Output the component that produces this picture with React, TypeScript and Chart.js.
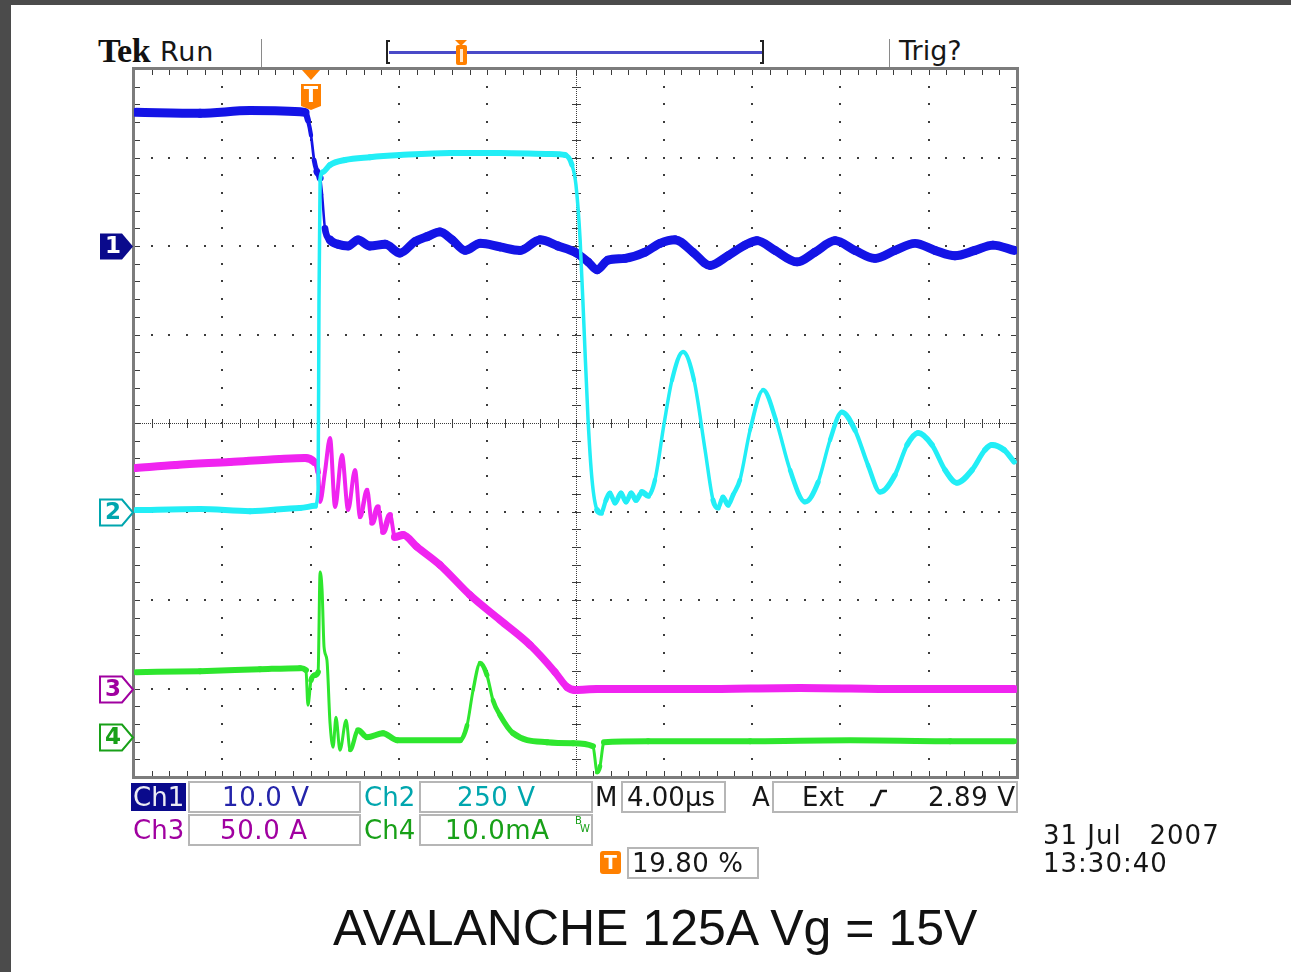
import React, { useEffect, useRef } from 'react';
import { Chart, registerables } from 'chart.js';

Chart.register(...registerables);

// ---- Time base (4 µs/div, 10 div, trigger at 19.80 % of record) ----
const TIME_PER_DIV = 4;
const H_DIVS = 10;
const V_DIVS = 8;
const TRIGGER_PCT = 19.8;
const X_MIN = -(TIME_PER_DIV * H_DIVS * TRIGGER_PCT) / 100;
const X_MAX = X_MIN + TIME_PER_DIV * H_DIVS;

// ---- Vertical settings per channel ----
const CH1_SCALE = 10; // V/div
const CH2_SCALE = 250; // V/div
const CH3_SCALE = 50; // A/div
const CH4_SCALE = 10; // mA/div
const CH1_GROUND_DIV = 6;
const CH2_GROUND_DIV = 3;
const CH3_GROUND_DIV = 1;
const CH4_GROUND_DIV = 0.45;

// ---- Ch1 : gate voltage (V) vs time (µs) ----
const CH1_T = [-7.83, -4.93, -2.66, -0.17, -0.04, 0.10, 0.24, 0.37, 0.51, 0.60, 0.73, 0.96, 1.32, 1.78, 2.23, 2.77, 3.45, 4.13, 4.81, 5.40, 5.94, 6.49, 7.08, 7.76, 8.66, 9.57, 10.47, 11.29, 12.06, 12.65, 13.06, 13.55, 14.32, 15.23, 15.91, 16.59, 17.40, 18.17, 18.99, 19.76, 20.30, 21.12, 22.12, 22.93, 23.84, 24.74, 25.65, 26.55, 27.46, 28.37, 29.27, 30.18, 30.99, 31.95];
const CH1_V = [15.1, 15.0, 15.3, 15.1, 14.2, 12.5, 9.7, 8.4, 7.7, 5.8, 2.0, 0.7, 0.2, 0.0, 0.7, 0.0, 0.2, -0.8, 0.5, 1.1, 1.6, 0.7, -0.5, 0.3, -0.1, -0.5, 0.7, 0.0, -0.7, -1.8, -2.7, -1.6, -1.4, -0.7, 0.3, 0.7, -0.7, -2.2, -1.1, 0.1, 0.6, -0.5, -1.8, -0.7, 0.6, -0.5, -1.4, -0.5, 0.3, -0.5, -1.1, -0.5, 0.1, -0.5];

// ---- Ch2 : drain voltage (V) ----
const CH2_T = [-7.83, -4.93, -2.66, -0.40, 0.28, 0.42, 0.46, 0.51, 0.64, 0.96, 1.64, 2.77, 4.13, 6.40, 8.66, 10.93, 11.61, 11.92, 12.10, 12.29, 12.47, 12.65, 12.83, 13.06, 13.24, 13.46, 13.64, 13.87, 14.14, 14.37, 14.60, 14.82, 15.09, 15.37, 15.68, 16.09, 16.45, 16.95, 17.45, 17.95, 18.31, 18.54, 18.76, 18.99, 19.22, 19.53, 19.99, 20.58, 21.16, 21.80, 22.48, 23.07, 23.61, 24.15, 24.74, 25.33, 25.88, 26.55, 27.10, 27.60, 28.23, 28.82, 29.36, 30.04, 30.63, 30.95, 31.49, 31.95];
const CH2_V = [4, 7, 1, 10, 16, 61, 597, 936, 959, 979, 993, 1001, 1007, 1013, 1013, 1010, 1007, 979, 923, 767, 513, 258, 89, 4, -4, 32, 52, 24, 52, 27, 52, 32, 55, 44, 89, 247, 371, 451, 371, 174, 32, 10, 41, 18, 47, 89, 230, 343, 258, 117, 27, 83, 202, 281, 230, 131, 55, 103, 188, 222, 188, 117, 81, 117, 174, 188, 174, 140];

// ---- Ch3 : drain current (A) ----
const CH3_T = [-7.83, -6.02, -3.57, -1.30, -0.17, 0.24, 0.42, 0.51, 0.73, 0.96, 1.19, 1.50, 1.78, 2.09, 2.32, 2.64, 2.86, 3.13, 3.36, 3.68, 3.90, 4.27, 4.90, 5.94, 7.30, 8.66, 10.02, 11.15, 11.70, 12.06, 13.06, 17.72, 22.25, 26.78, 31.95];
const CH3_A = [124.6, 126.3, 128.0, 129.7, 130.2, 128.0, 122.3, 105.4, 122.3, 141.5, 102.5, 131.9, 100.8, 123.5, 96.9, 112.2, 93.5, 102.5, 88.4, 98.0, 85.6, 86.7, 80.0, 69.8, 52.8, 38.7, 24.6, 9.3, 0.8, -0.8, -0.3, -0.3, 0.3, -0.3, -0.3];

// ---- Ch4 : gate current (mA) ----
const CH4_T = [-7.83, -4.93, -2.21, -0.40, -0.13, -0.04, 0.10, 0.28, 0.42, 0.51, 0.60, 0.69, 0.82, 0.96, 1.10, 1.23, 1.41, 1.69, 1.87, 2.23, 2.64, 3.36, 4.00, 5.49, 6.85, 7.17, 7.44, 7.76, 8.07, 8.34, 8.66, 9.25, 10.79, 11.97, 12.87, 13.06, 13.19, 13.37, 15.37, 19.99, 24.52, 29.05, 31.95];
const CH4_MA = [7.35, 7.46, 7.68, 7.80, 7.57, 3.62, 6.44, 7.01, 7.35, 18.65, 16.61, 10.17, 8.70, 1.58, -1.13, 2.26, -1.47, 1.92, -1.47, 0.79, 0.0, 0.45, -0.34, -0.34, -0.34, 1.36, 5.31, 8.36, 7.01, 4.18, 2.49, 0.45, -0.57, -0.68, -1.02, -3.96, -3.28, -0.57, -0.45, -0.45, -0.34, -0.45, -0.45];

const CH_COLORS = ['#1414e6', '#22eef6', '#f024f0', '#2ee62e'];
const CH_LABEL_COLORS = ['#0a0a8c', '#00a6ae', '#a000a0', '#18a018'];
const ORANGE = '#ff8000';
const SCOPE_FONT = '"DejaVu Sans", sans-serif';

const W = 1291;
const H = 972;
const PLOT = { left: 134, top: 69, right: 1017, bottom: 777 };

const pts = (t: number[], v: number[]) => t.map((x, i) => ({ x, y: v[i] }));

const segWidth = (thick: number, floor: number) => (ctx: any) => {
  const dx = Math.abs(ctx.p1.x - ctx.p0.x) || 0.001;
  const dy = Math.abs(ctx.p1.y - ctx.p0.y);
  const s = dy / dx;
  return Math.max(floor, thick / Math.sqrt(1 + 0.15 * s * s));
};

const graticule = {
  id: 'graticule',
  beforeDatasetsDraw(chart: any) {
    const { ctx, chartArea } = chart;
    const { left, top, right, bottom } = chartArea;
    const w = right - left;
    const h = bottom - top;
    const dx = w / H_DIVS;
    const dy = h / V_DIVS;
    ctx.save();
    ctx.fillStyle = '#3c3c3c';
    for (let i = 1; i < H_DIVS; i++) {
      if (i === H_DIVS / 2) continue;
      const x = Math.round(left + i * dx);
      for (let k = 1; k < V_DIVS * 5; k++) {
        const y = Math.round(top + (k * dy) / 5);
        ctx.fillRect(x - 1, y - 1, 2, 2);
      }
    }
    for (let j = 1; j < V_DIVS; j++) {
      if (j === V_DIVS / 2) continue;
      const y = Math.round(top + j * dy);
      for (let k = 1; k < H_DIVS * 5; k++) {
        const x = Math.round(left + (k * dx) / 5);
        ctx.fillRect(x - 1, y - 1, 2, 2);
      }
    }
    const cx = Math.round(left + (H_DIVS / 2) * dx);
    const cy = Math.round(top + (V_DIVS / 2) * dy);
    for (let y = top; y < bottom; y += 2) ctx.fillRect(cx, y, 1, 1);
    for (let x = left; x < right; x += 2) ctx.fillRect(x, cy, 1, 1);
    ctx.strokeStyle = '#3c3c3c';
    ctx.lineWidth = 1;
    ctx.beginPath();
    for (let k = 1; k < V_DIVS * 5; k++) {
      const y = Math.round(top + (k * dy) / 5) + 0.5;
      ctx.moveTo(cx - 4, y); ctx.lineTo(cx + 5, y);
      ctx.moveTo(left, y); ctx.lineTo(left + 6, y);
      ctx.moveTo(right, y); ctx.lineTo(right - 6, y);
    }
    for (let k = 1; k < H_DIVS * 5; k++) {
      const x = Math.round(left + (k * dx) / 5) + 0.5;
      ctx.moveTo(x, cy - 4); ctx.lineTo(x, cy + 5);
      ctx.moveTo(x, top); ctx.lineTo(x, top + 6);
      ctx.moveTo(x, bottom); ctx.lineTo(x, bottom - 6);
    }
    ctx.stroke();
    ctx.strokeStyle = '#7c7c7c';
    ctx.lineWidth = 3;
    ctx.strokeRect(left - 0.5, top - 0.5, w + 1, h + 1);
    ctx.restore();
  },
};

const markers = {
  id: 'markers',
  afterDatasetsDraw(chart: any) {
    const { ctx, chartArea } = chart;
    const defs = [
      { axis: 'y1', label: '1', filled: true, color: CH_LABEL_COLORS[0] },
      { axis: 'y2', label: '2', filled: false, color: CH_LABEL_COLORS[1] },
      { axis: 'y3', label: '3', filled: false, color: CH_LABEL_COLORS[2] },
      { axis: 'y4', label: '4', filled: false, color: CH_LABEL_COLORS[3] },
    ];
    ctx.save();
    defs.forEach((d) => {
      const y = Math.round(chart.scales[d.axis].getPixelForValue(0)) + 0.5;
      const tip = chartArea.left - 1;
      const x0 = tip - 33;
      const xr = tip - 11;
      const hh = 13;
      ctx.beginPath();
      ctx.moveTo(x0, y - hh);
      ctx.lineTo(xr, y - hh);
      ctx.lineTo(tip, y);
      ctx.lineTo(xr, y + hh);
      ctx.lineTo(x0, y + hh);
      ctx.closePath();
      if (d.filled) {
        ctx.fillStyle = d.color;
        ctx.fill();
      } else {
        ctx.fillStyle = '#ffffff';
        ctx.fill();
        ctx.strokeStyle = d.color;
        ctx.lineWidth = 2;
        ctx.stroke();
      }
      ctx.fillStyle = d.filled ? '#ffffff' : d.color;
      ctx.font = `bold 23px ${SCOPE_FONT}`;
      ctx.textAlign = 'center';
      ctx.textBaseline = 'middle';
      ctx.fillText(d.label, x0 + 13, y + 1);
    });
    // trigger position marker
    const tx = Math.round(chart.scales.x.getPixelForValue(0)) + 2;
    const top = chartArea.top;
    ctx.fillStyle = ORANGE;
    ctx.beginPath();
    ctx.moveTo(tx - 9, top + 1);
    ctx.lineTo(tx + 9, top + 1);
    ctx.lineTo(tx, top + 11);
    ctx.closePath();
    ctx.fill();
    ctx.beginPath();
    ctx.moveTo(tx - 10, top + 15);
    ctx.lineTo(tx + 10, top + 15);
    ctx.lineTo(tx + 10, top + 37);
    ctx.lineTo(tx, top + 41);
    ctx.lineTo(tx - 10, top + 37);
    ctx.closePath();
    ctx.fill();
    ctx.fillStyle = '#ffffff';
    ctx.font = `bold 21px ${SCOPE_FONT}`;
    ctx.textAlign = 'center';
    ctx.textBaseline = 'middle';
    ctx.fillText('T', tx, top + 28);
    ctx.restore();
  },
};

const axisRange = (ground: number, scale: number) => ({
  type: 'linear' as const,
  display: false,
  min: -ground * scale,
  max: (V_DIVS - ground) * scale,
});

const trace = (label: string, data: any[], axis: string, ch: number, thick: number, floor: number, order: number) => ({
  label,
  data,
  yAxisID: axis,
  pointRadius: 0,
  cubicInterpolationMode: 'monotone' as const,
  borderCapStyle: 'round' as const,
  borderJoinStyle: 'round' as const,
  fill: false,
  borderColor: CH_COLORS[ch],
  borderWidth: thick,
  order,
  segment: { borderWidth: segWidth(thick, floor) },
});

const Txt = (p: { x: number; y: number; h?: number; size?: number; color?: string; font?: string; bold?: boolean; children: any; style?: any }) => (
  <div
    style={{
      position: 'absolute',
      left: p.x,
      top: p.y,
      height: p.h ?? 30,
      lineHeight: `${p.h ?? 30}px`,
      fontSize: p.size ?? 26,
      fontFamily: p.font ?? SCOPE_FONT,
      fontWeight: p.bold ? 700 : 400,
      color: p.color ?? '#161616',
      whiteSpace: 'pre',
      ...(p.style || {}),
    }}
  >
    {p.children}
  </div>
);

const Box = (p: { x: number; y: number; w: number; h: number }) => (
  <div
    style={{
      position: 'absolute',
      left: p.x,
      top: p.y,
      width: p.w,
      height: p.h,
      boxSizing: 'border-box',
      border: '2px solid #b6b6b6',
    }}
  />
);

export default function App() {
  const canvasRef = useRef<HTMLCanvasElement>(null);

  useEffect(() => {
    const chart = new Chart(canvasRef.current as HTMLCanvasElement, {
      type: 'line',
      data: {
        datasets: [
          trace('Ch2', pts(CH2_T, CH2_V), 'y2', 1, 6, 3.5, 1),
          trace('Ch1', pts(CH1_T, CH1_V), 'y1', 0, 9, 2.5, 2),
          trace('Ch3', pts(CH3_T, CH3_A), 'y3', 2, 8, 4, 3),
          trace('Ch4', pts(CH4_T, CH4_MA), 'y4', 3, 6, 3, 4),
        ] as any,
      },
      options: {
        animation: false,
        responsive: false,
        maintainAspectRatio: false,
        layout: {
          padding: { left: PLOT.left, top: PLOT.top, right: W - PLOT.right, bottom: H - PLOT.bottom },
        },
        plugins: { legend: { display: false }, tooltip: { enabled: false }, title: { display: false } },
        scales: {
          x: { type: 'linear', display: false, min: X_MIN, max: X_MAX },
          y1: axisRange(CH1_GROUND_DIV, CH1_SCALE),
          y2: axisRange(CH2_GROUND_DIV, CH2_SCALE),
          y3: axisRange(CH3_GROUND_DIV, CH3_SCALE),
          y4: axisRange(CH4_GROUND_DIV, CH4_SCALE),
        },
      } as any,
      plugins: [graticule, markers],
    });
    return () => chart.destroy();
  }, []);

  return (
    <div style={{ position: 'absolute', left: 0, top: 0, width: W, height: H, background: '#ffffff', overflow: 'hidden' }}>
      <div style={{ position: 'absolute', left: 0, top: 0, width: W, height: 5, background: '#4b4b4b' }} />
      <div style={{ position: 'absolute', left: 0, top: 0, width: 11, height: H, background: '#4b4b4b' }} />

      {/* header */}
      <Txt x={98} y={33} h={36} size={34} bold font={'"Liberation Serif", serif'} color="#111" style={{ letterSpacing: '-0.5px' }}>Tek</Txt>
      <Txt x={160} y={37} size={27} style={{ letterSpacing: '0.8px' }}>Run</Txt>
      <div style={{ position: 'absolute', left: 261, top: 39, width: 1, height: 30, background: '#8a8a8a' }} />
      <div style={{ position: 'absolute', left: 889, top: 39, width: 1, height: 30, background: '#8a8a8a' }} />
      <Txt x={899} y={36} size={27}>Trig?</Txt>
      <div style={{ position: 'absolute', left: 386, top: 40, width: 4, height: 24, boxSizing: 'border-box', borderLeft: '2px solid #222', borderTop: '2px solid #222', borderBottom: '2px solid #222' }} />
      <div style={{ position: 'absolute', left: 760, top: 40, width: 4, height: 24, boxSizing: 'border-box', borderRight: '2px solid #222', borderTop: '2px solid #222', borderBottom: '2px solid #222' }} />
      <div style={{ position: 'absolute', left: 389, top: 51, width: 373, height: 3, background: '#4a4ac8' }} />
      <div style={{ position: 'absolute', left: 455, top: 40, width: 0, height: 0, borderLeft: '6px solid transparent', borderRight: '6px solid transparent', borderTop: '6px solid ' + ORANGE }} />
      <div style={{ position: 'absolute', left: 456, top: 45, width: 11, height: 20, background: ORANGE, borderRadius: 2 }} />
      <div style={{ position: 'absolute', left: 460, top: 49, width: 3, height: 13, background: '#ffe7cc' }} />

      <canvas ref={canvasRef} width={W} height={H} style={{ position: 'absolute', left: 0, top: 0 }} />

      {/* readout row 1 */}
      <div style={{ position: 'absolute', left: 131, top: 783, width: 55, height: 28, background: '#0a0a8c' }} />
      <Txt x={133} y={782} color="#ececf4">Ch1</Txt>
      <Box x={188} y={781} w={173} h={32} />
      <Txt x={222} y={782} color="#2424aa" style={{ letterSpacing: '0.6px' }}>10.0 V</Txt>
      <Txt x={364} y={782} color={CH_LABEL_COLORS[1]}>Ch2</Txt>
      <Box x={419} y={781} w={174} h={32} />
      <Txt x={457} y={782} color={CH_LABEL_COLORS[1]} style={{ letterSpacing: '0.6px' }}>250 V</Txt>
      <Txt x={595} y={782}>M</Txt>
      <Box x={621} y={781} w={105} h={32} />
      <Txt x={627} y={782}>4.00µs</Txt>
      <Txt x={752} y={782}>A</Txt>
      <Box x={772} y={781} w={246} h={32} />
      <Txt x={802} y={782}>Ext</Txt>
      <svg style={{ position: 'absolute', left: 869, top: 788 }} width={20} height={20}>
        <path d="M1 17 L6 17 L12 3 L18 3" stroke="#161616" strokeWidth={2.6} fill="none" />
      </svg>
      <Txt x={928} y={782} style={{ letterSpacing: '0.6px' }}>2.89 V</Txt>

      {/* readout row 2 */}
      <Txt x={133} y={815} color={CH_LABEL_COLORS[2]}>Ch3</Txt>
      <Box x={188} y={814} w={173} h={32} />
      <Txt x={220} y={815} color={CH_LABEL_COLORS[2]} style={{ letterSpacing: '0.6px' }}>50.0 A</Txt>
      <Txt x={364} y={815} color={CH_LABEL_COLORS[3]}>Ch4</Txt>
      <Box x={419} y={814} w={174} h={32} />
      <Txt x={445} y={815} color={CH_LABEL_COLORS[3]} style={{ letterSpacing: '0.6px' }}>10.0mA</Txt>
      <Txt x={575} y={815} h={12} size={10} color={CH_LABEL_COLORS[3]}>B</Txt>
      <Txt x={580} y={823} h={12} size={10} color={CH_LABEL_COLORS[3]}>W</Txt>

      {/* readout row 3 */}
      <div style={{ position: 'absolute', left: 600, top: 851, width: 21, height: 23, background: ORANGE, borderRadius: 3, color: '#fff', fontFamily: SCOPE_FONT, fontWeight: 700, fontSize: 19, lineHeight: '23px', textAlign: 'center' }}>T</div>
      <Box x={627} y={847} w={132} h={32} />
      <Txt x={632} y={848} style={{ letterSpacing: '0.6px' }}>19.80 %</Txt>

      <Txt x={1043} y={820} style={{ letterSpacing: '1px' }}>{'31 Jul   2007'}</Txt>
      <Txt x={1043} y={848} style={{ letterSpacing: '1px' }}>13:30:40</Txt>

      <Txt x={333} y={900} h={56} size={50} font={'"Liberation Sans", Arial, sans-serif'} color="#111">AVALANCHE 125A Vg = 15V</Txt>
    </div>
  );
}
